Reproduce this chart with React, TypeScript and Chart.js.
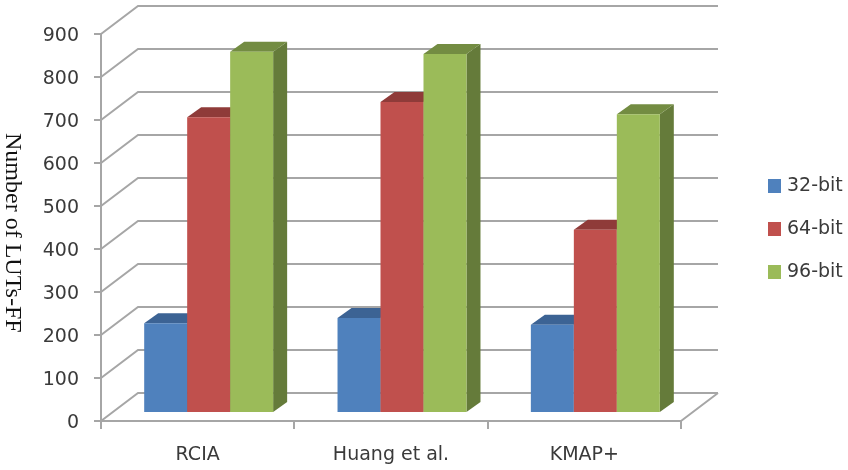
import React, { useEffect, useRef } from "react";
import { Chart, registerables } from "chart.js";

Chart.register(...registerables);

const categories = ["RCIA", "Huang et al.", "KMAP+"];
const bits32 = [209, 221, 205];
const bits64 = [688, 723, 426];
const bits96 = [840, 835, 695];
const seriesNames = ["32-bit", "64-bit", "96-bit"];
const frontColors = ["#4F81BD", "#C0504D", "#9BBB59"];
const topColors = ["#3C6394", "#8F3B39", "#738C42"];
const sideColors = ["#335480", "#7A322F", "#657B3A"];

const LINE = "#A6A6A6";
const TEXT = "#3A3A3A";
const FONT = "'DejaVu Sans'";
const WALL_DX = 37;
const WALL_DY = 28;
const BAR_DX = 11;
const BAR_DY = 8;
const DEPTH_X = 14;
const DEPTH_Y = 10;

// Draws the receding floor and wall lines, then the columns with their side and top faces,
// left to right so each column overlaps the depth of the one before it.
const depthPlugin = {
  id: "depth",
  beforeDatasetsDraw(chart: any) {
    const { ctx, chartArea, scales } = chart;
    const { left, right, bottom } = chartArea;
    ctx.save();
    ctx.strokeStyle = LINE;
    ctx.lineWidth = 2;
    ctx.beginPath();
    for (const tick of scales.y.ticks) {
      const y = scales.y.getPixelForValue(tick.value);
      ctx.moveTo(left, y);
      ctx.lineTo(left + WALL_DX, y - WALL_DY);
      ctx.lineTo(right + WALL_DX, y - WALL_DY);
    }
    ctx.moveTo(right, bottom);
    ctx.lineTo(right + WALL_DX, bottom - WALL_DY);
    ctx.stroke();

    ctx.translate(BAR_DX, -BAR_DY);
    chart.data.datasets.forEach((_: any, i: number) => {
      const bars = chart.getDatasetMeta(i).data;
      for (const bar of bars) {
        const l = bar.x - bar.width / 2;
        const r = bar.x + bar.width / 2;
        ctx.fillStyle = sideColors[i];
        ctx.beginPath();
        ctx.moveTo(r, bar.y);
        ctx.lineTo(r + DEPTH_X, bar.y - DEPTH_Y);
        ctx.lineTo(r + DEPTH_X, bar.base - DEPTH_Y);
        ctx.lineTo(r, bar.base);
        ctx.closePath();
        ctx.fill();
        ctx.fillStyle = topColors[i];
        ctx.beginPath();
        ctx.moveTo(l, bar.y);
        ctx.lineTo(l + DEPTH_X, bar.y - DEPTH_Y);
        ctx.lineTo(r + DEPTH_X, bar.y - DEPTH_Y);
        ctx.lineTo(r, bar.y);
        ctx.closePath();
        ctx.fill();
        bar.draw(ctx);
      }
    });
    ctx.restore();
  },
  beforeDatasetDraw() {
    return false;
  },
};

// Series key in the right-hand margin and the downward-reading axis title.
const annotationPlugin = {
  id: "annotations",
  afterDraw(chart: any) {
    const { ctx } = chart;
    ctx.save();
    ctx.font = `19px ${FONT}`;
    ctx.textBaseline = "middle";
    chart.data.datasets.forEach((ds: any, i: number) => {
      const y = 186 + i * 43;
      ctx.fillStyle = ds.backgroundColor;
      ctx.fillRect(768, y - 7, 13, 14);
      ctx.fillStyle = TEXT;
      ctx.fillText(ds.label, 787, y);
    });
    ctx.translate(6, 133);
    ctx.rotate(Math.PI / 2);
    ctx.font = "24px 'Liberation Serif'";
    ctx.textBaseline = "alphabetic";
    ctx.fillStyle = "#111111";
    ctx.fillText("Number of LUTs-FF", 0, 0);
    ctx.restore();
  },
};

export default function App() {
  const ref = useRef<HTMLCanvasElement>(null);

  useEffect(() => {
    const values = [bits32, bits64, bits96];
    const chart = new Chart(ref.current!, {
      type: "bar",
      data: {
        labels: categories,
        datasets: seriesNames.map((label, i) => ({
          label,
          data: values[i],
          backgroundColor: frontColors[i],
        })),
      },
      plugins: [depthPlugin, annotationPlugin],
      options: {
        animation: false,
        responsive: false,
        layout: { padding: { top: 34, right: 167, left: 0, bottom: 0 } },
        plugins: { legend: { display: false }, tooltip: { enabled: false } },
        datasets: { bar: { categoryPercentage: 0.667, barPercentage: 1 } },
        scales: {
          x: {
            grid: { drawOnChartArea: false, color: LINE, lineWidth: 2, tickLength: 8 },
            border: { color: LINE, width: 2 },
            ticks: { color: TEXT, font: { family: FONT, size: 19 }, padding: 15, maxRotation: 0 },
            afterFit(scale: any) {
              scale.height = 49;
            },
          },
          y: {
            min: 0,
            max: 900,
            grid: { drawOnChartArea: false, color: LINE, lineWidth: 2, tickLength: 7 },
            border: { color: LINE, width: 2 },
            ticks: { stepSize: 100, color: TEXT, font: { family: FONT, size: 19 }, padding: 15, labelOffset: 2.5 },
            afterFit(scale: any) {
              scale.width = 101;
            },
          },
        },
      },
    } as any);
    return () => chart.destroy();
  }, []);

  return (
    <div style={{ position: "absolute", left: 0, top: 0 }}>
      <canvas ref={ref} width={848} height={470} style={{ display: "block" }} />
    </div>
  );
}
